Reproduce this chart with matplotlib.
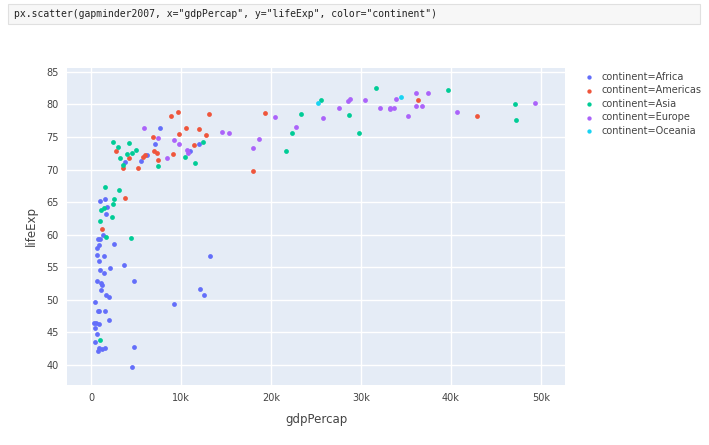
import matplotlib.pyplot as plt
from matplotlib.patches import Rectangle

# gapminder 2007
africa_gdp = [6223, 4797, 1441, 12570, 1217, 430, 2042, 706, 1704, 986, 278, 3633, 1545, 2082, 5581,
              12154, 641, 691, 13206, 753, 1328, 943, 579, 1463, 1569, 415, 12057, 1045, 759, 1043,
              1803, 10957, 3820, 824, 4811, 620, 2014, 7670, 863, 1598, 1712, 863, 926, 9270, 2602,
              4513, 1107, 883, 7093, 1056, 1271, 470]
africa_life = [72.3, 42.7, 56.7, 50.7, 52.3, 49.6, 50.4, 44.7, 50.7, 65.2, 46.5, 55.3, 48.3, 54.8, 71.3,
               51.6, 58.0, 52.9, 56.7, 59.4, 60.0, 56.0, 46.4, 54.1, 42.6, 45.7, 74.0, 59.4, 48.3, 54.5,
               64.2, 72.8, 71.2, 42.1, 52.9, 56.9, 46.9, 76.4, 46.2, 65.5, 63.1, 42.6, 48.2, 49.3, 58.6,
               39.6, 52.5, 58.4, 73.9, 51.5, 42.4, 43.5]
americas_gdp = [12779, 3822, 9066, 36319, 13172, 7007, 9645, 8948, 6025, 6873, 5728, 5186, 1202, 3548,
                7321, 11978, 2749, 9809, 4173, 7409, 19329, 18009, 42952, 10611, 11416]
americas_life = [75.3, 65.6, 72.4, 80.7, 78.6, 72.9, 78.8, 78.3, 72.2, 75.0, 71.9, 70.3, 60.9, 70.2,
                 72.6, 76.2, 72.9, 75.5, 71.8, 71.4, 78.7, 69.8, 78.2, 76.4, 73.7]
asia_gdp = [975, 29796, 1391, 1714, 4959, 39725, 2452, 3541, 11606, 4471, 25523, 31656, 4519, 1593,
            23348, 47307, 10461, 12452, 3096, 944, 1091, 22316, 2606, 3190, 21655, 47143, 3970, 4185,
            28718, 7458, 2442, 3025, 2281]
asia_life = [43.8, 75.6, 64.1, 59.7, 73.0, 82.2, 64.7, 70.7, 71.0, 59.5, 80.7, 82.6, 72.5, 67.3,
             78.6, 77.6, 72.0, 74.2, 66.8, 62.1, 63.8, 75.6, 65.5, 71.7, 72.8, 80.0, 72.4, 74.1,
             78.4, 70.6, 74.2, 73.4, 62.7]
europe_gdp = [5937, 36126, 33693, 7446, 10681, 14619, 22833, 35278, 33207, 30470, 32170, 27538, 18009,
              36181, 40676, 28570, 9254, 36798, 49357, 15390, 20510, 10808, 9787, 18678, 25768, 28821,
              33860, 37506, 8458, 33203]
europe_life = [76.4, 79.8, 79.4, 74.9, 73.0, 75.7, 76.5, 78.3, 79.3, 80.7, 79.4, 79.5, 73.3,
               81.8, 78.9, 80.5, 74.5, 79.8, 80.2, 75.6, 78.1, 72.5, 74.0, 74.7, 77.9, 80.9,
               80.9, 81.7, 71.8, 79.4]
oceania_gdp = [34435, 25185]
oceania_life = [81.2, 80.2]

continents = ["Africa", "Americas", "Asia", "Europe", "Oceania"]
colors = ["#636efa", "#EF553B", "#00cc96", "#ab63fa", "#19d3f3"]
series = [(africa_gdp, africa_life), (americas_gdp, americas_life), (asia_gdp, asia_life),
          (europe_gdp, europe_life), (oceania_gdp, oceania_life)]

fig = plt.figure(figsize=(7.09, 4.45), dpi=100)

# code cell on top
fig.patches.append(Rectangle((8 / 709, 1 - 24 / 445), 692 / 709, 20 / 445, transform=fig.transFigure,
                             facecolor="#f7f7f7", edgecolor="#e0e0e0", lw=0.8))
fig.text(14 / 709, 1 - 14 / 445, 'px.scatter(gapminder2007, x="gdpPercap", y="lifeExp", color="continent")',
         family="DejaVu Sans Mono", fontsize=7, va="center", color="#222222")

ax = fig.add_axes([67 / 709, 60 / 445, 498 / 709, 317 / 445])
ax.set_facecolor("#E5ECF6")
for (x, y), c, name in zip(series, colors, continents):
    ax.scatter(x, y, s=12, color=c, label="continent=" + name, zorder=3, linewidths=0)

ax.set_xlim(-2670, 52700)
ax.set_ylim(36.9, 85.6)
ax.set_xticks([0, 10000, 20000, 30000, 40000, 50000])
ax.set_xticklabels(["0", "10k", "20k", "30k", "40k", "50k"])
ax.set_yticks(range(40, 86, 5))
ax.grid(color="white", lw=1, zorder=0)
ax.set_axisbelow(True)
for s in ax.spines.values():
    s.set_visible(False)
ax.tick_params(length=0, labelsize=7, colors="#444444", pad=6)
ax.set_xlabel("gdpPercap", fontsize=8.5, color="#444444", labelpad=7)
ax.set_ylabel("lifeExp", fontsize=8.5, color="#444444", labelpad=6)

leg = ax.legend(loc="upper left", bbox_to_anchor=(1.02, 1.0), frameon=False, fontsize=7,
                handletextpad=0.3, labelspacing=0.35, borderaxespad=0, markerscale=0.9)
for t in leg.get_texts():
    t.set_color("#444444")

fig.savefig("out.png", dpi=100)
